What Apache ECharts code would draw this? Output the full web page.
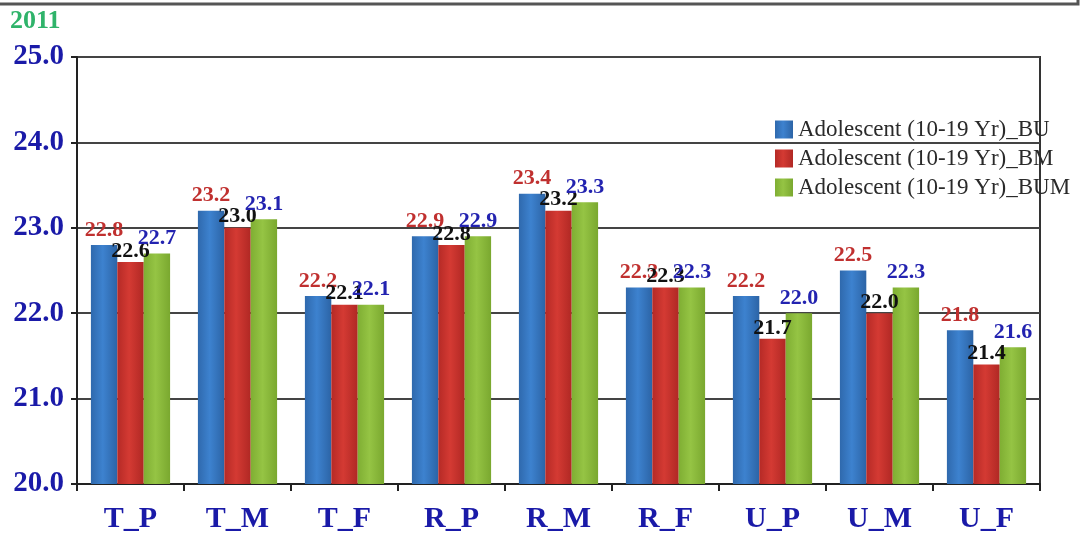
<!DOCTYPE html>
<html>
<head>
<meta charset="utf-8">
<script src="https://cdn.jsdelivr.net/npm/echarts@6/dist/echarts.min.js"></script>
<style>
  html, body { margin: 0; padding: 0; background: #fff; }
  #chart { width: 1084px; height: 537px; }
</style>
</head>
<body>
<div id="chart"></div>
<script>
// Mean values by area/sex group, adolescents 10-19 years, 2011
const categories = ['T_P', 'T_M', 'T_F', 'R_P', 'R_M', 'R_F', 'U_P', 'U_M', 'U_F'];
const seriesNames = ['Adolescent (10-19 Yr)_BU', 'Adolescent (10-19 Yr)_BM', 'Adolescent (10-19 Yr)_BUM'];
const valuesBU  = [22.8, 23.2, 22.2, 22.9, 23.4, 22.3, 22.2, 22.5, 21.8];
const valuesBM  = [22.6, 23.0, 22.1, 22.8, 23.2, 22.3, 21.7, 22.0, 21.4];
const valuesBUM = [22.7, 23.1, 22.1, 22.9, 23.3, 22.3, 22.0, 22.3, 21.6];
const yTicks = { min: 20, max: 25, interval: 1 };

const serif = '"Liberation Serif", "Times New Roman", serif';

function hGrad(edge, mid, edge2) {
  return new echarts.graphic.LinearGradient(0, 0, 1, 0, [
    { offset: 0, color: edge },
    { offset: 0.45, color: mid },
    { offset: 1, color: edge2 }
  ]);
}

const styles = [
  { fill: hGrad('#2f69ad', '#3d82cf', '#2c64a6'), label: '#c0302f', gap: 4 },
  { fill: hGrad('#b52a26', '#d43a33', '#b02824'), label: '#111111', gap: 0 },
  { fill: hGrad('#7fae33', '#95c444', '#7aa82f'), label: '#2323b0', gap: 4 }
];

const allValues = [valuesBU, valuesBM, valuesBUM];

const chart = echarts.init(document.getElementById('chart'), null, { renderer: 'canvas' });

chart.setOption({
  backgroundColor: '#ffffff',
  animation: false,
  graphic: [
    {
      type: 'polyline',
      shape: { points: [[0, 4], [1078, 4], [1078, 0]] },
      style: { stroke: '#555555', lineWidth: 3, fill: null }
    },
    {
      type: 'text',
      left: 10,
      top: 8,
      style: {
        text: '2011',
        fill: '#2fb36a',
        font: 'bold 26px ' + serif
      }
    }
  ],
  grid: {
    left: 77,
    right: 44,
    top: 57,
    bottom: 53,
    show: true,
    borderColor: '#333333',
    borderWidth: 2,
    containLabel: false
  },
  legend: {
    orient: 'vertical',
    left: 770,
    top: 113,
    itemWidth: 18,
    itemHeight: 18,
    itemGap: 6,
    icon: 'rect',
    textStyle: {
      fontFamily: serif,
      fontSize: 23,
      color: '#2a2a2a'
    },
    data: seriesNames
  },
  xAxis: {
    type: 'category',
    data: categories,
    axisLine: { show: true, lineStyle: { color: '#222222', width: 2 } },
    axisTick: { show: true, length: 7, alignWithLabel: false, lineStyle: { color: '#222222', width: 2 } },
    axisLabel: {
      margin: 20,
      fontFamily: serif,
      fontWeight: 'bold',
      fontSize: 30,
      color: '#1a1aa8'
    }
  },
  yAxis: {
    type: 'value',
    min: yTicks.min,
    max: yTicks.max,
    interval: yTicks.interval,
    axisLine: { show: true, lineStyle: { color: '#222222', width: 2 } },
    axisTick: { show: true, length: 6, lineStyle: { color: '#222222', width: 2 } },
    splitLine: { show: true, lineStyle: { color: '#444444', width: 2 } },
    axisLabel: {
      margin: 13,
      fontFamily: serif,
      fontWeight: 'bold',
      fontSize: 29,
      color: '#1a1aa8',
      formatter: v => v.toFixed(1)
    }
  },
  series: seriesNames.map((name, i) => ({
    name: name,
    type: 'bar',
    data: allValues[i],
    barGap: '0%',
    barCategoryGap: '26%',
    itemStyle: { color: styles[i].fill },
    label: {
      show: true,
      position: 'top',
      distance: styles[i].gap,
      fontFamily: serif,
      fontWeight: 'bold',
      fontSize: 22,
      color: styles[i].label,
      formatter: p => p.value.toFixed(1)
    }
  }))
});
</script>
</body>
</html>
